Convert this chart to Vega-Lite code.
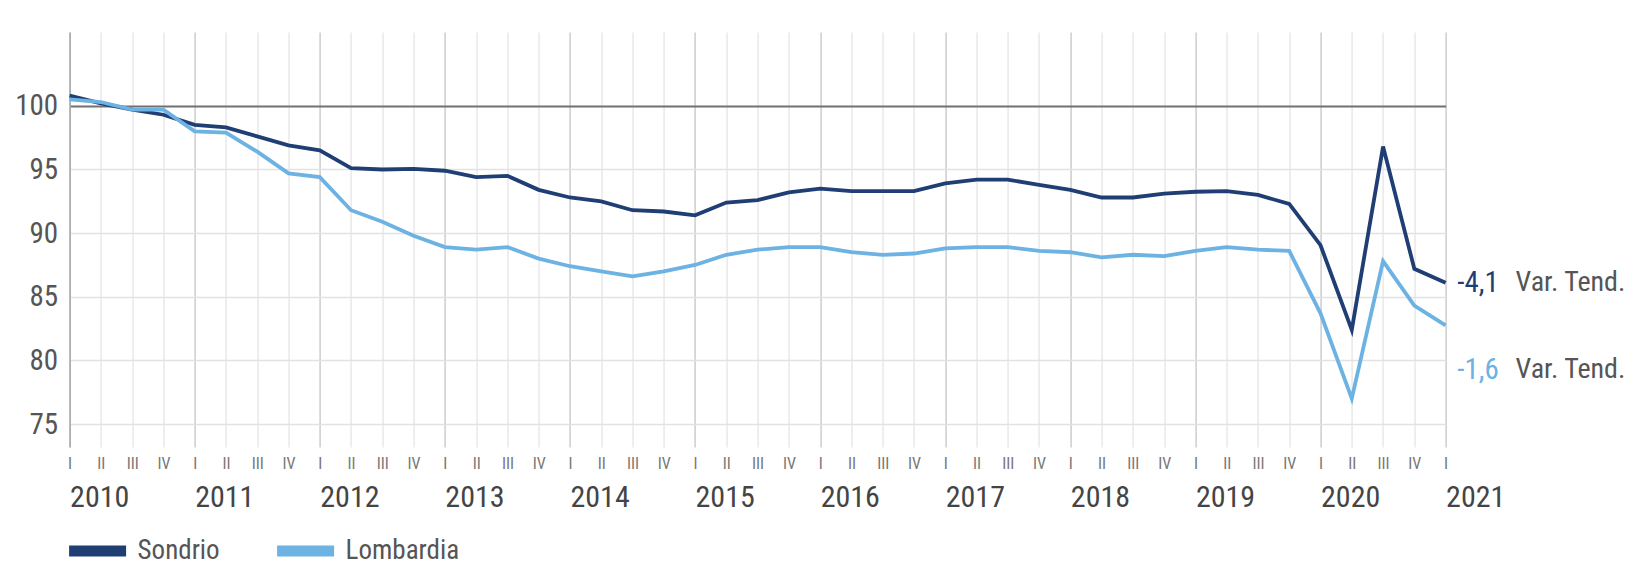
{
  "$schema": "https://vega.github.io/schema/vega-lite/v6.json",
  "width": 1376,
  "height": 415,
  "autosize": {"type": "none"},
  "padding": {"left": 69.6, "top": 32, "right": 180.4, "bottom": 136},
  "background": "white",
  "config": {"view": {"stroke": null}, "font": "Roboto Condensed, Liberation Sans, sans-serif"},
  "datasets": {
    "serie": [
      {"serie": "Sondrio", "t": 2010, "indice": 100.8},
      {"serie": "Sondrio", "t": 2010.25, "indice": 100.2},
      {"serie": "Sondrio", "t": 2010.5, "indice": 99.7},
      {"serie": "Sondrio", "t": 2010.75, "indice": 99.3},
      {"serie": "Sondrio", "t": 2011, "indice": 98.5},
      {"serie": "Sondrio", "t": 2011.25, "indice": 98.3},
      {"serie": "Sondrio", "t": 2011.5, "indice": 97.6},
      {"serie": "Sondrio", "t": 2011.75, "indice": 96.9},
      {"serie": "Sondrio", "t": 2012, "indice": 96.5},
      {"serie": "Sondrio", "t": 2012.25, "indice": 95.1},
      {"serie": "Sondrio", "t": 2012.5, "indice": 95.0},
      {"serie": "Sondrio", "t": 2012.75, "indice": 95.05},
      {"serie": "Sondrio", "t": 2013, "indice": 94.9},
      {"serie": "Sondrio", "t": 2013.25, "indice": 94.4},
      {"serie": "Sondrio", "t": 2013.5, "indice": 94.5},
      {"serie": "Sondrio", "t": 2013.75, "indice": 93.4},
      {"serie": "Sondrio", "t": 2014, "indice": 92.8},
      {"serie": "Sondrio", "t": 2014.25, "indice": 92.5},
      {"serie": "Sondrio", "t": 2014.5, "indice": 91.8},
      {"serie": "Sondrio", "t": 2014.75, "indice": 91.7},
      {"serie": "Sondrio", "t": 2015, "indice": 91.4},
      {"serie": "Sondrio", "t": 2015.25, "indice": 92.4},
      {"serie": "Sondrio", "t": 2015.5, "indice": 92.6},
      {"serie": "Sondrio", "t": 2015.75, "indice": 93.2},
      {"serie": "Sondrio", "t": 2016, "indice": 93.5},
      {"serie": "Sondrio", "t": 2016.25, "indice": 93.3},
      {"serie": "Sondrio", "t": 2016.5, "indice": 93.3},
      {"serie": "Sondrio", "t": 2016.75, "indice": 93.3},
      {"serie": "Sondrio", "t": 2017, "indice": 93.9},
      {"serie": "Sondrio", "t": 2017.25, "indice": 94.2},
      {"serie": "Sondrio", "t": 2017.5, "indice": 94.2},
      {"serie": "Sondrio", "t": 2017.75, "indice": 93.8},
      {"serie": "Sondrio", "t": 2018, "indice": 93.4},
      {"serie": "Sondrio", "t": 2018.25, "indice": 92.8},
      {"serie": "Sondrio", "t": 2018.5, "indice": 92.8},
      {"serie": "Sondrio", "t": 2018.75, "indice": 93.1},
      {"serie": "Sondrio", "t": 2019, "indice": 93.25},
      {"serie": "Sondrio", "t": 2019.25, "indice": 93.3},
      {"serie": "Sondrio", "t": 2019.5, "indice": 93.0},
      {"serie": "Sondrio", "t": 2019.75, "indice": 92.3},
      {"serie": "Sondrio", "t": 2020, "indice": 89.05},
      {"serie": "Sondrio", "t": 2020.25, "indice": 82.4},
      {"serie": "Sondrio", "t": 2020.5, "indice": 96.8},
      {"serie": "Sondrio", "t": 2020.75, "indice": 87.2},
      {"serie": "Sondrio", "t": 2021, "indice": 86.1},
      {"serie": "Lombardia", "t": 2010, "indice": 100.5},
      {"serie": "Lombardia", "t": 2010.25, "indice": 100.3},
      {"serie": "Lombardia", "t": 2010.5, "indice": 99.7},
      {"serie": "Lombardia", "t": 2010.75, "indice": 99.7},
      {"serie": "Lombardia", "t": 2011, "indice": 98.0},
      {"serie": "Lombardia", "t": 2011.25, "indice": 97.9},
      {"serie": "Lombardia", "t": 2011.5, "indice": 96.4},
      {"serie": "Lombardia", "t": 2011.75, "indice": 94.7},
      {"serie": "Lombardia", "t": 2012, "indice": 94.4},
      {"serie": "Lombardia", "t": 2012.25, "indice": 91.8},
      {"serie": "Lombardia", "t": 2012.5, "indice": 90.9},
      {"serie": "Lombardia", "t": 2012.75, "indice": 89.8},
      {"serie": "Lombardia", "t": 2013, "indice": 88.9},
      {"serie": "Lombardia", "t": 2013.25, "indice": 88.7},
      {"serie": "Lombardia", "t": 2013.5, "indice": 88.9},
      {"serie": "Lombardia", "t": 2013.75, "indice": 88.0},
      {"serie": "Lombardia", "t": 2014, "indice": 87.4},
      {"serie": "Lombardia", "t": 2014.25, "indice": 87.0},
      {"serie": "Lombardia", "t": 2014.5, "indice": 86.6},
      {"serie": "Lombardia", "t": 2014.75, "indice": 87.0},
      {"serie": "Lombardia", "t": 2015, "indice": 87.5},
      {"serie": "Lombardia", "t": 2015.25, "indice": 88.3},
      {"serie": "Lombardia", "t": 2015.5, "indice": 88.7},
      {"serie": "Lombardia", "t": 2015.75, "indice": 88.9},
      {"serie": "Lombardia", "t": 2016, "indice": 88.9},
      {"serie": "Lombardia", "t": 2016.25, "indice": 88.5},
      {"serie": "Lombardia", "t": 2016.5, "indice": 88.3},
      {"serie": "Lombardia", "t": 2016.75, "indice": 88.4},
      {"serie": "Lombardia", "t": 2017, "indice": 88.8},
      {"serie": "Lombardia", "t": 2017.25, "indice": 88.9},
      {"serie": "Lombardia", "t": 2017.5, "indice": 88.9},
      {"serie": "Lombardia", "t": 2017.75, "indice": 88.6},
      {"serie": "Lombardia", "t": 2018, "indice": 88.5},
      {"serie": "Lombardia", "t": 2018.25, "indice": 88.1},
      {"serie": "Lombardia", "t": 2018.5, "indice": 88.3},
      {"serie": "Lombardia", "t": 2018.75, "indice": 88.2},
      {"serie": "Lombardia", "t": 2019, "indice": 88.6},
      {"serie": "Lombardia", "t": 2019.25, "indice": 88.9},
      {"serie": "Lombardia", "t": 2019.5, "indice": 88.7},
      {"serie": "Lombardia", "t": 2019.75, "indice": 88.6},
      {"serie": "Lombardia", "t": 2020, "indice": 83.7},
      {"serie": "Lombardia", "t": 2020.25, "indice": 77.0},
      {"serie": "Lombardia", "t": 2020.5, "indice": 87.8},
      {"serie": "Lombardia", "t": 2020.75, "indice": 84.3},
      {"serie": "Lombardia", "t": 2021, "indice": 82.75}
    ],
    "note": [
      {"serie": "Sondrio", "t": 2021, "indice": 86.1, "variazione": "-4,1", "nota": "Var. Tend."},
      {"serie": "Lombardia", "t": 2021, "indice": 82.75, "variazione": "-1,6", "nota": "Var. Tend."}
    ]
  },
  "resolve": {"axis": {"x": "independent"}},
  "layer": [
    {
      "data": {"name": "serie"},
      "mark": {"type": "line", "strokeWidth": 3.8, "strokeJoin": "miter"},
      "encoding": {
        "x": {
          "field": "t", "type": "quantitative",
          "scale": {"domain": [2010, 2021], "nice": false, "zero": false},
          "axis": {
            "orient": "bottom", "title": null,
            "values": [2010, 2010.25, 2010.5, 2010.75, 2011, 2011.25, 2011.5, 2011.75, 2012, 2012.25, 2012.5, 2012.75, 2013, 2013.25, 2013.5, 2013.75, 2014, 2014.25, 2014.5, 2014.75, 2015, 2015.25, 2015.5, 2015.75, 2016, 2016.25, 2016.5, 2016.75, 2017, 2017.25, 2017.5, 2017.75, 2018, 2018.25, 2018.5, 2018.75, 2019, 2019.25, 2019.5, 2019.75, 2020, 2020.25, 2020.5, 2020.75, 2021],
            "labelExpr": "['I','II','III','IV'][round((datum.value - floor(datum.value)) * 4)]",
            "labelFontSize": 16, "labelColor": "#777777", "labelBaseline": "middle", "labelPadding": 16,
            "labelFlush": false, "labelOverlap": false, "labelBound": false,
            "ticks": false, "domain": false, "grid": true,
            "gridColor": {"condition": {"test": "datum.value === floor(datum.value)", "value": "#cdcdcd"}, "value": "#e9e9e9"},
            "gridWidth": 1.5
          }
        },
        "y": {
          "field": "indice", "type": "quantitative",
          "scale": {"domain": [73.2, 105.8], "nice": false, "zero": false},
          "axis": {
            "title": null, "values": [75, 80, 85, 90, 95, 100],
            "labelFontSize": 29, "labelColor": "#555555", "labelPadding": 12,
            "ticks": false, "domain": true, "domainColor": "#a8a8a8", "domainWidth": 1.5,
            "grid": true,
            "gridColor": {"condition": {"test": "datum.value === 100", "value": "#707070"}, "value": "#e2e2e2"},
            "gridWidth": {"condition": {"test": "datum.value === 100", "value": 2}, "value": 1.5}
          }
        },
        "color": {
          "field": "serie", "type": "nominal",
          "scale": {"domain": ["Sondrio", "Lombardia"], "range": ["#1f3e73", "#6cb2e2"]},
          "legend": {
            "orient": "none", "legendX": -6, "legendY": 485, "direction": "horizontal", "title": null,
            "symbolType": "M-1,0H1", "symbolSize": 3249, "symbolStrokeWidth": 11,
            "labelFontSize": 27, "labelColor": "#555555", "labelOffset": 6, "columnPadding": 34
          }
        }
      }
    },
    {
      "data": {"name": "note"},
      "transform": [{"filter": "datum.serie === 'Sondrio'"}],
      "mark": {"type": "text", "align": "left", "baseline": "middle", "dx": 11.7, "fontSize": 29, "color": "#1f3e73"},
      "encoding": {
        "x": {
          "field": "t", "type": "quantitative",
          "axis": {
            "orient": "bottom", "title": null, "values": [2010, 2011, 2012, 2013, 2014, 2015, 2016, 2017, 2018, 2019, 2020, 2021],
            "format": "d", "labelAlign": "left", "labelBaseline": "alphabetic", "labelPadding": 59,
            "labelFontSize": 30, "labelColor": "#444444", "labelFlush": false, "labelOverlap": false, "labelBound": false,
            "ticks": false, "domain": false, "grid": false
          }
        },
        "y": {"field": "indice", "type": "quantitative"},
        "text": {"field": "variazione"}
      }
    },
    {
      "data": {"name": "note"},
      "transform": [{"filter": "datum.serie === 'Sondrio'"}],
      "mark": {"type": "text", "align": "left", "baseline": "middle", "dx": 70, "fontSize": 28, "color": "#555555"},
      "encoding": {
        "x": {"field": "t", "type": "quantitative", "axis": null},
        "y": {"field": "indice", "type": "quantitative"},
        "text": {"field": "nota"}
      }
    },
    {
      "data": {"name": "note"},
      "transform": [{"filter": "datum.serie === 'Lombardia'"}],
      "mark": {"type": "text", "align": "left", "baseline": "middle", "dx": 11.7, "dy": 45, "fontSize": 29, "color": "#6cb2e2"},
      "encoding": {
        "x": {"field": "t", "type": "quantitative", "axis": null},
        "y": {"field": "indice", "type": "quantitative"},
        "text": {"field": "variazione"}
      }
    },
    {
      "data": {"name": "note"},
      "transform": [{"filter": "datum.serie === 'Lombardia'"}],
      "mark": {"type": "text", "align": "left", "baseline": "middle", "dx": 70, "dy": 45, "fontSize": 28, "color": "#555555"},
      "encoding": {
        "x": {"field": "t", "type": "quantitative", "axis": null},
        "y": {"field": "indice", "type": "quantitative"},
        "text": {"field": "nota"}
      }
    }
  ]
}
